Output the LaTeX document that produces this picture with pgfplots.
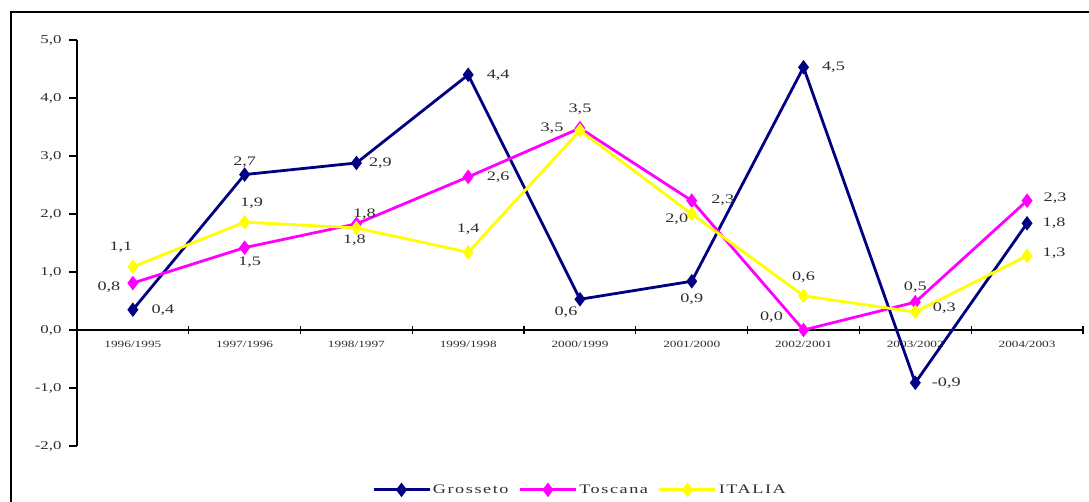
\documentclass[border=0pt]{standalone}
\usepackage{fontspec}
\setmainfont{Liberation Serif}[FakeStretch=1.4]
\usepackage{pgfplots}
\pgfplotsset{compat=1.18}
\definecolor{cnavy}{RGB}{0,0,128}
\definecolor{cmag}{RGB}{255,0,255}
\definecolor{cyel}{RGB}{255,255,0}
\definecolor{txt}{RGB}{45,45,45}
\tikzset{lbl/.style={font=\fontsize{13}{15}\selectfont, text=txt, inner sep=0pt}}
\begin{document}
\begin{tikzpicture}[x=1pt,y=1pt]
\useasboundingbox (0,0) rectangle (1089,501);
\clip (0,0) rectangle (1089,501);
\draw[line width=1.8pt] (11,489) rectangle (1200,-30);
\begin{axis}[
  at={(77pt,55pt)}, anchor=south west,
  scale only axis, width=1006pt, height=406pt,
  xmin=-0.5, xmax=8.5, ymin=-2, ymax=5,
  axis x line*=middle, axis y line*=left,
  axis line style={line width=1.4pt, black},
  clip=false,
  xtick={-0.5,0.5,...,8.5}, xticklabels={{},{},{},{},{},{},{},{},{},{}},
  xtick align=center, ytick align=outside,
  major tick length=8pt,
  every tick/.style={black, line width=1.2pt},
  extra x ticks={0,1,2,3,4,5,6,7,8},
  extra x tick labels={1996/1995,1997/1996,1998/1997,1999/1998,2000/1999,2001/2000,2002/2001,2003/2002,2004/2003},
  extra x tick style={major tick length=0pt},
  x tick label style={font=\fontsize{9.5}{11}\selectfont, text=txt, yshift=-8pt},
  ytick={-2,-1,0,1,2,3,4,5},
  y tick label style={font=\fontsize{12}{14}\selectfont, text=txt, xshift=-4pt},
  legend columns=3,
  legend style={at={(0.5,-0.108)}, anchor=center, draw=none, fill=none,
    font=\fontsize{13}{15}\selectfont\addfontfeature{LetterSpace=12}, text=txt,
    /tikz/every even column/.append style={column sep=8pt}},
  legend image code/.code={\draw[mark repeat=2,mark phase=2,#1] plot coordinates {(0pt,0pt) (28pt,0pt) (56pt,0pt)};},
  every axis plot/.append style={line width=2.8pt, mark=diamond*, mark size=5pt},
  /pgf/number format/.cd, fixed, fixed zerofill, precision=1, use comma, assume math mode=true,
]
\addplot[color=cnavy, mark options={fill=cnavy}] coordinates {
(0,0.35) (1,2.68) (2,2.88) (3,4.40) (4,0.53) (5,0.84) (6,4.53) (7,-0.91) (8,1.84)};
\addlegendentry{Grosseto}
\addplot[color=cmag, mark options={fill=cmag}] coordinates {
(0,0.81) (1,1.42) (2,1.83) (3,2.64) (4,3.48) (5,2.23) (6,0.0) (7,0.48) (8,2.23)};
\addlegendentry{Toscana}
\addplot[color=cyel, mark options={fill=cyel}] coordinates {
(0,1.09) (1,1.86) (2,1.76) (3,1.34) (4,3.44) (5,2.0) (6,0.59) (7,0.31) (8,1.28)};
\addlegendentry{ITALIA}
% Grosseto labels
\node[lbl,xshift=30pt] at (axis cs:0,0.35) {0,4};
\node[lbl,yshift=12pt] at (axis cs:1,2.68) {2,7};
\node[lbl,xshift=24pt] at (axis cs:2,2.88) {2,9};
\node[lbl,xshift=30pt] at (axis cs:3,4.40) {4,4};
\node[lbl,xshift=-14pt,yshift=-13pt] at (axis cs:4,0.53) {0,6};
\node[lbl,yshift=-18pt] at (axis cs:5,0.84) {0,9};
\node[lbl,xshift=30pt] at (axis cs:6,4.53) {4,5};
\node[lbl,xshift=31pt] at (axis cs:7,-0.91) {-0,9};
\node[lbl,xshift=27pt] at (axis cs:8,1.84) {1,8};
% Toscana labels
\node[lbl,xshift=-24pt,yshift=-4pt] at (axis cs:0,0.81) {0,8};
\node[lbl,xshift=5pt,yshift=-15pt] at (axis cs:1,1.42) {1,5};
\node[lbl,xshift=8pt,yshift=10pt] at (axis cs:2,1.83) {1,8};
\node[lbl,xshift=30pt] at (axis cs:3,2.64) {2,6};
\node[lbl,yshift=19pt] at (axis cs:4,3.48) {3,5};
\node[lbl,xshift=31pt] at (axis cs:5,2.23) {2,3};
\node[lbl,xshift=-32pt,yshift=13pt] at (axis cs:6,0.0) {0,0};
\node[lbl,yshift=15pt] at (axis cs:7,0.48) {0,5};
\node[lbl,xshift=28pt,yshift=2pt] at (axis cs:8,2.23) {2,3};
% ITALIA labels
\node[lbl,xshift=-12pt,yshift=20pt] at (axis cs:0,1.09) {1,1};
\node[lbl,xshift=7pt,yshift=19pt] at (axis cs:1,1.86) {1,9};
\node[lbl,xshift=-2pt,yshift=-12pt] at (axis cs:2,1.76) {1,8};
\node[lbl,yshift=23pt] at (axis cs:3,1.34) {1,4};
\node[lbl,xshift=-28pt,yshift=2pt] at (axis cs:4,3.44) {3,5};
\node[lbl,xshift=-15pt,yshift=-5pt] at (axis cs:5,2.0) {2,0};
\node[lbl,yshift=19pt] at (axis cs:6,0.59) {0,6};
\node[lbl,xshift=29pt,yshift=4pt] at (axis cs:7,0.31) {0,3};
\node[lbl,xshift=27pt,yshift=3pt] at (axis cs:8,1.28) {1,3};
\end{axis}
\end{tikzpicture}
\end{document}
